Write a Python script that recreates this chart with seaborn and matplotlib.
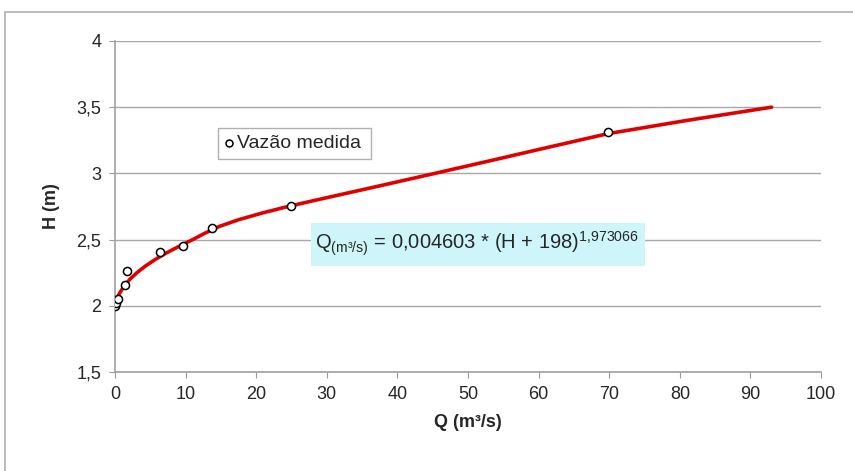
import matplotlib
matplotlib.use("Agg")
import matplotlib.pyplot as plt
import seaborn as sns
import pandas as pd
from matplotlib.patches import Rectangle

# measured discharges (Q in m3/s, H in m)
meas_q = [0.0, 0.15, 0.4, 1.4, 1.65, 6.4, 9.6, 13.8, 24.9, 69.8]
meas_h = [2.0, 2.02, 2.05, 2.16, 2.265, 2.41, 2.455, 2.59, 2.756, 3.31]

# rating curve
curve_h = [2.0, 2.03, 2.06, 2.1, 2.15, 2.2, 2.25, 2.3, 2.35, 2.4, 2.45, 2.5, 2.55, 2.6,
           2.65, 2.7, 2.75, 2.8, 2.85, 2.9, 3.0, 3.1, 3.2, 3.3, 3.4, 3.5]
curve_q = [0.0, 0.1, 0.3, 0.7, 1.3, 2.1, 3.1, 4.3, 5.7, 7.3, 9.1, 11.0, 12.8, 14.8,
           17.5, 20.8, 24.5, 28.6, 32.8, 37.0, 45.3, 53.5, 61.6, 69.8, 81.0, 93.0]

x_ticks = [0, 10, 20, 30, 40, 50, 60, 70, 80, 90, 100]
y_ticks = [1.5, 2, 2.5, 3, 3.5, 4]
y_labels = ["1,5", "2", "2,5", "3", "3,5", "4"]

meas = pd.DataFrame({"Q": meas_q, "H": meas_h})
curve = pd.DataFrame({"Q": curve_q, "H": curve_h})

sns.set_style("white")
plt.rcParams["font.family"] = ["Liberation Sans", "DejaVu Sans"]
plt.rcParams["mathtext.fontset"] = "custom"
plt.rcParams["mathtext.rm"] = "Liberation Sans"
plt.rcParams["mathtext.it"] = "Liberation Sans:italic"

fig = plt.figure(figsize=(8.54, 4.71), dpi=100)
ax = fig.add_axes([0.1347, 0.2102, 0.8267, 0.7028])

# outer chart frame (only top and left visible)
fig.patches.append(Rectangle((0.006, -0.1), 1.1, 1.075, transform=fig.transFigure,
                             fill=False, edgecolor="#b0b0b0", linewidth=1.2))

sns.lineplot(data=curve, x="Q", y="H", sort=False, color="#e00000", linewidth=2.6, ax=ax)
sns.scatterplot(data=meas, x="Q", y="H", marker="o", s=34, facecolor="white",
                edgecolor="black", linewidth=1.1, ax=ax, zorder=5)

ax.set_xlim(0, 100)
ax.set_ylim(1.5, 4)
ax.set_xticks(x_ticks)
ax.set_yticks(y_ticks)
ax.set_yticklabels(y_labels)
ax.tick_params(axis="both", labelsize=13, length=4, color="#999999", direction="out",
               bottom=True, left=True, pad=6)
ax.yaxis.grid(True, color="#a8a8a8", linewidth=1.0)
ax.set_axisbelow(True)
for s in ["top", "right"]:
    ax.spines[s].set_visible(False)
for s in ["left", "bottom"]:
    ax.spines[s].set_color("#a0a0a0")
    ax.spines[s].set_linewidth(1.2)

ax.set_xlabel("Q (m³/s)", fontsize=13, fontweight="bold", labelpad=8)
ax.set_ylabel("H (m)", fontsize=13, fontweight="bold", labelpad=12)

# legend box
leg_x, leg_y = 14.6, 3.227
ax.add_patch(Rectangle((leg_x, leg_y - 0.115), 21.7, 0.23, facecolor="white",
                       edgecolor="#b0b0b0", linewidth=1.0, zorder=6))
ax.plot([16.2], [leg_y], marker="o", markersize=5, markerfacecolor="white",
        markeredgecolor="black", markeredgewidth=1.1, zorder=7)
ax.text(17.3, leg_y, "Vazão medida", fontsize=14, va="center", ha="left", zorder=7)

# equation box
ax.add_patch(Rectangle((27.8, 2.3), 47.2, 0.325, facecolor="#cdf5fa",
                       edgecolor="none", zorder=6))
ax.text(28.3, 2.47, r"Q$_{\mathrm{(m³/s)}}$ = 0,004603 * (H + 198)$^{\mathrm{1{,}973066}}$",
        fontsize=14.5, va="center", ha="left", zorder=7)

fig.savefig("out.png", dpi=100)
